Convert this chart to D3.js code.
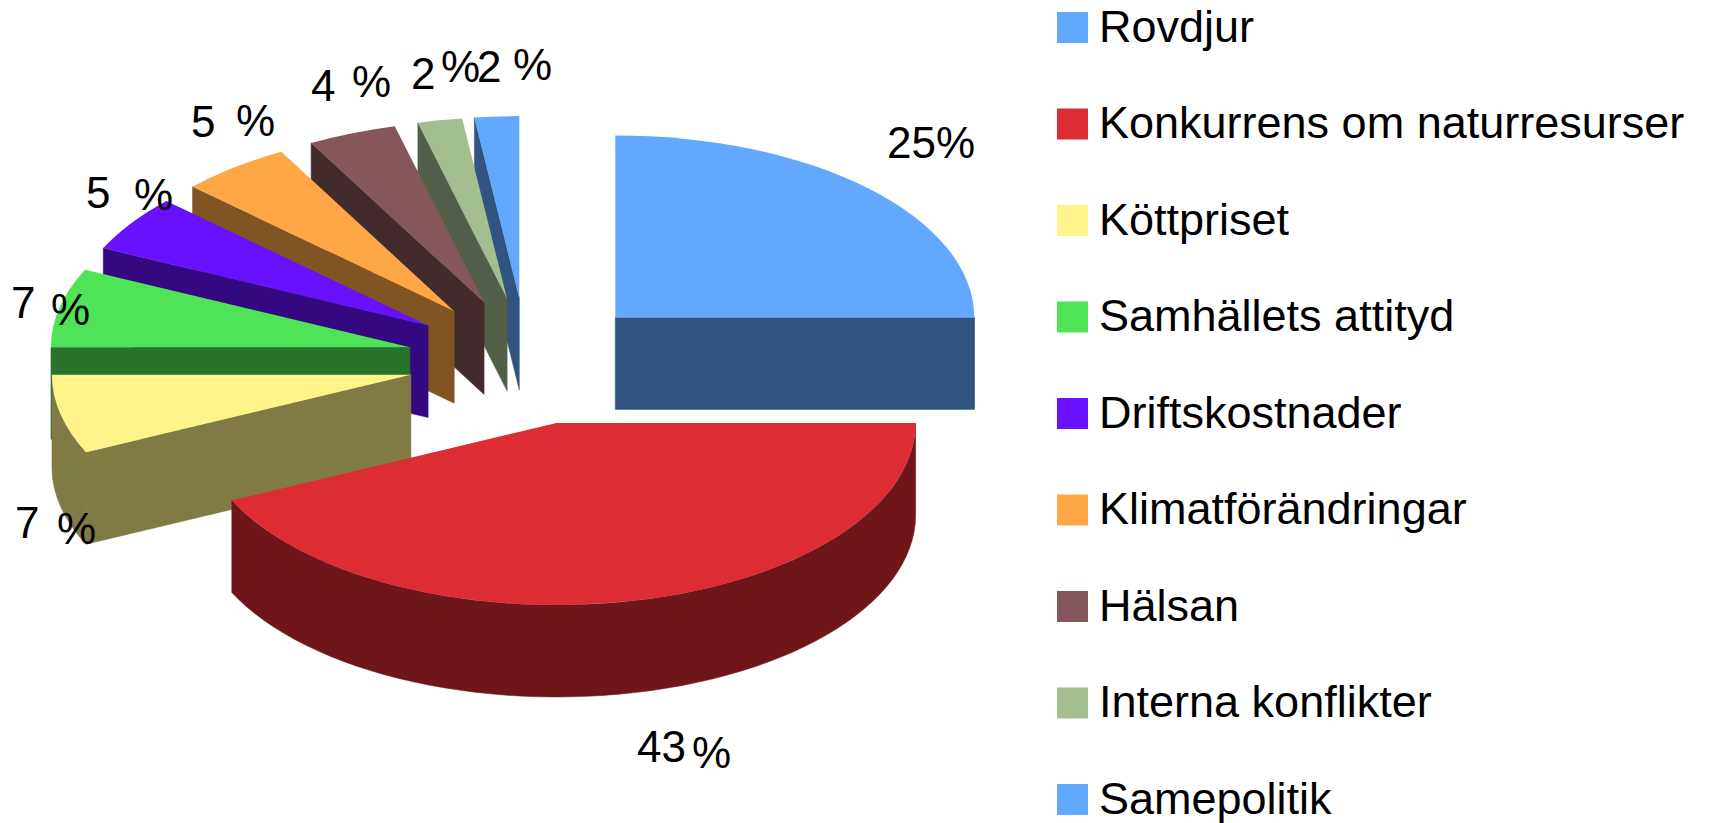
<!DOCTYPE html>
<html>
<head>
<meta charset="utf-8">
<script src="https://d3js.org/d3.v7.min.js"></script>
<style>
  html, body { margin: 0; background: #ffffff; }
  text { font-family: "Liberation Sans", Arial, sans-serif; fill: #000000; }
</style>
</head>
<body>
<div id="chart"></div>
<script>
var categories = ["Rovdjur", "Konkurrens om naturresurser", "Köttpriset", "Samhällets attityd",
  "Driftskostnader", "Klimatförändringar", "Hälsan", "Interna konflikter", "Samepolitik"];
var values = [25, 43, 7, 7, 5, 5, 4, 2, 2];
var colors = ["#63a8ff", "#dd2c33", "#fff389", "#4fe457", "#6711ff", "#ffa746", "#85565a", "#a3be8f", "#63a8ff"];

// where the number and the % sign of each label sit, the source spaces them by hand
var label_pos = [
  { x: 887, y: 158, px: 0, py: 0 },
  { x: 637, y: 762, px: 692, py: 768 },
  { x: 15, y: 538, px: 57, py: 544 },
  { x: 11, y: 318, px: 51, py: 325 },
  { x: 86, y: 208, px: 134, py: 210 },
  { x: 191, y: 137, px: 236, py: 136 },
  { x: 311, y: 101, px: 352, py: 97 },
  { x: 411, y: 89, px: 441, py: 82 },
  { x: 477, y: 82, px: 513, py: 80 }
];

// small per slice corrections to the explode offset
var nudge = [[0, 1], [1, 0.5], [1, 0], [0, 0], [0, 0], [0, 0], [0, 0], [1, 0], [-2, 0]];

var svg_width = 1712;
var svg_height = 823;
var label_font = 44;
var legend_font = 45;

// pie geometry
var cx = 529;
var cy = 361;
var rx = 359;
var ry = 182;
var depth = 92;
var explode_x = 122;
var explode_y = 63;

var svg = d3.select("#chart").append("svg")
  .attr("width", svg_width)
  .attr("height", svg_height)
  .style("display", "block");

var color_scale = d3.scaleOrdinal().domain(categories).range(colors);

var pie = d3.pie().sort(null).value(function(d) { return d.value; });
var arcs = pie(categories.map(function(c, i) {
  return { name: c, value: values[i], pos: label_pos[i], nudge: nudge[i] };
}));

var top_arc = d3.arc().innerRadius(0).outerRadius(rx);
var line = d3.line().x(function(p) { return p[0]; }).y(function(p) { return p[1]; });

function edge(a) {
  return [rx * Math.sin(a), -ry * Math.cos(a)];
}

function side_color(name) {
  var c = d3.rgb(color_scale(name));
  return d3.rgb(c.r * 0.5, c.g * 0.5, c.b * 0.5).formatHex();
}

// radial cut face, from the middle of the pie out to the rim and down
function radial_wall(a) {
  var e = edge(a);
  return line([[0, 0], e, [e[0], e[1] + depth], [0, depth]]) + "Z";
}

// the part of the rim that faces the viewer
function rim_wall(a0, a1) {
  var from = Math.max(a0, Math.PI / 2);
  var to = Math.min(a1, Math.PI * 1.5);
  if (from >= to) return null;
  var steps = d3.range(0, 61).map(function(i) { return edge(from + (to - from) * i / 60); });
  var lower = steps.slice().reverse().map(function(p) { return [p[0], p[1] + depth]; });
  return line(steps.concat(lower)) + "Z";
}

// back slices first, the red one has to end up on top of the yellow one
var draw_order = [0, 8, 7, 6, 5, 4, 3, 2, 1];

var slices = svg.selectAll("g.slice")
  .data(draw_order.map(function(i) { return arcs[i]; }))
  .enter().append("g")
  .attr("class", "slice")
  .attr("transform", function(d) {
    var mid = (d.startAngle + d.endAngle) / 2;
    var x = cx + explode_x * Math.sin(mid) + d.data.nudge[0];
    var y = cy - explode_y * Math.cos(mid) + d.data.nudge[1];
    return "translate(" + x + "," + y + ")";
  });

slices.each(function(d) {
  var g = d3.select(this);
  var dark = side_color(d.data.name);
  var wall = function(path) {
    g.append("path").attr("d", path).attr("fill", dark).attr("stroke", dark).attr("stroke-width", 0.5);
  };
  if (Math.sin(d.startAngle) < -1e-6) wall(radial_wall(d.startAngle));
  if (Math.sin(d.endAngle) > 1e-6) wall(radial_wall(d.endAngle));
  var rim = rim_wall(d.startAngle, d.endAngle);
  if (rim) wall(rim);
  g.append("path")
    .attr("d", top_arc(d))
    .attr("transform", "scale(1," + (ry / rx) + ")")
    .attr("fill", color_scale(d.data.name));
});

// value labels
var labels = svg.selectAll("text.value")
  .data(arcs)
  .enter().append("text")
  .attr("class", "value")
  .attr("font-size", label_font);

labels.each(function(d) {
  var t = d3.select(this);
  var p = d.data.pos;
  if (p.px) {
    t.append("tspan").attr("x", p.x).attr("y", p.y).text(d.data.value);
    t.append("tspan").attr("x", p.px).attr("y", p.py).text("%");
  } else {
    t.attr("x", p.x).attr("y", p.y).text(d.data.value + "%");
  }
});

// legend
var legend_y = d3.scalePoint().domain(categories).range([27.5, 799.5]);

var legend = svg.selectAll("g.legend")
  .data(categories)
  .enter().append("g")
  .attr("class", "legend")
  .attr("transform", function(d) { return "translate(1057," + legend_y(d) + ")"; });

legend.append("rect")
  .attr("x", 0)
  .attr("y", -15.5)
  .attr("width", 31)
  .attr("height", 31)
  .attr("fill", function(d) { return color_scale(d); });

legend.append("text")
  .attr("x", 42)
  .attr("y", 14)
  .attr("font-size", legend_font)
  .text(function(d) { return d; });
</script>
</body>
</html>
